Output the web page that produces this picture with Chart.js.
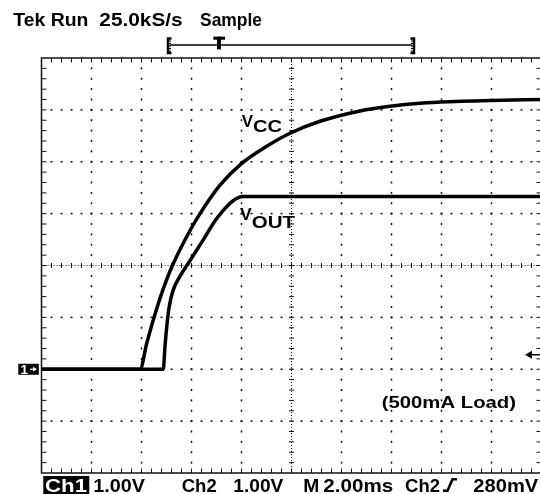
<!DOCTYPE html>
<html>
<head>
<meta charset="utf-8">
<title>Vcc / Vout power-up</title>
<script src="https://cdn.jsdelivr.net/npm/chart.js@4.4.1/dist/chart.umd.min.js"></script>
<style>
  html, body { margin: 0; padding: 0; background: #fff; overflow: hidden; }
  #wrap { width: 546px; height: 494px; }
</style>
</head>
<body>
<div id="wrap"><canvas id="scope" width="546" height="494"></canvas></div>
<script>
// time in ms (M 2.00ms/div, 10 div), volts (1.00V/div, ground 2 div above bottom)
const timeRange = [0, 20];
const voltRange = [-2, 6];

const vccTime  = [0, 3.94, 4.21, 4.47, 4.87, 5.21, 5.81, 6.34, 7.14, 8.01, 9.01, 9.94, 11.14, 12.74, 13.94, 15.14, 15.94, 17.94, 20];
const vccVolts = [0, 0, 0.50, 0.95, 1.55, 1.97, 2.56, 3.00, 3.55, 3.97, 4.30, 4.55, 4.78, 4.98, 5.07, 5.13, 5.15, 5.18, 5.20];

const voutTime  = [0, 4.87, 4.94, 5.01, 5.11, 5.27, 5.55, 5.95, 6.45, 7.0, 7.5, 7.8, 8.05, 20];
const voutVolts = [0, 0, 0.44, 0.82, 1.21, 1.53, 1.80, 2.10, 2.48, 2.90, 3.18, 3.29, 3.33, 3.33];

const triggerLevel = 0.28; // Ch2 280mV

const FONT = '"Liberation Sans", Arial, Helvetica, sans-serif';

function toPoints(xs, ys) {
  return xs.map((t, i) => ({x: t, y: ys[i]}));
}

// draw bold text squeezed/stretched to the width it has on the scope screen
function fitText(ctx, str, x, base, width, size) {
  ctx.font = 'bold ' + size + 'px ' + FONT;
  let w = ctx.measureText(str).width;
  ctx.save();
  ctx.translate(x, base);
  ctx.scale(width / w, 1);
  ctx.fillText(str, 0, 0);
  ctx.restore();
}

const graticule = {
  id: 'graticule',
  beforeDatasetsDraw(chart) {
    const {ctx, chartArea: a, scales: {x, y}} = chart;
    ctx.save();
    ctx.fillStyle = '#111';

    // dotted division lines, one dot every 1/5 division
    for (let t = 2; t < 20; t += 2) {
      if (t === 10) continue;
      let px = x.getPixelForValue(t);
      for (let i = 1; i < 40; i++) {
        ctx.fillRect(px - 0.75, y.getPixelForValue(-2 + i * 0.2) - 1, 1.5, 2);
      }
    }
    for (let v = -1; v < 6; v++) {
      if (v === 2) continue;
      let py = y.getPixelForValue(v);
      for (let i = 1; i < 50; i++) {
        ctx.fillRect(x.getPixelForValue(i * 0.4) - 1, py - 0.75, 2, 1.5);
      }
    }

    // centre cross with small ticks
    let cx = x.getPixelForValue(10), cy = y.getPixelForValue(2);
    ctx.strokeStyle = '#111';
    ctx.lineWidth = 1;
    ctx.setLineDash([1, 2]);
    ctx.beginPath();
    ctx.moveTo(cx, a.top); ctx.lineTo(cx, a.bottom);
    ctx.moveTo(a.left, cy); ctx.lineTo(a.right, cy);
    ctx.stroke();
    ctx.setLineDash([]);
    ctx.beginPath();
    for (let i = 1; i < 40; i++) {
      let py = y.getPixelForValue(-2 + i * 0.2);
      ctx.moveTo(cx - 2.5, py); ctx.lineTo(cx + 2.5, py);
    }
    for (let i = 1; i < 50; i++) {
      let px = x.getPixelForValue(i * 0.4);
      ctx.moveTo(px, cy - 2.5); ctx.lineTo(px, cy + 2.5);
    }
    ctx.stroke();

    // frame and its inward ticks
    ctx.lineWidth = 1.5;
    ctx.strokeRect(a.left, a.top, a.right - a.left, a.bottom - a.top);
    ctx.lineWidth = 1;
    ctx.beginPath();
    for (let i = 1; i < 50; i++) {
      let px = x.getPixelForValue(i * 0.4);
      ctx.moveTo(px, a.top); ctx.lineTo(px, a.top + 4.5);
      ctx.moveTo(px, a.bottom); ctx.lineTo(px, a.bottom - 4.5);
    }
    for (let i = 1; i < 40; i++) {
      let py = y.getPixelForValue(-2 + i * 0.2);
      ctx.moveTo(a.left, py); ctx.lineTo(a.left + 5, py);
      ctx.moveTo(a.right, py); ctx.lineTo(a.right - 5, py);
    }
    ctx.stroke();
    ctx.restore();
  },

  afterDraw(chart) {
    const {ctx, scales: {y}} = chart;
    ctx.save();
    ctx.fillStyle = '#000';
    ctx.strokeStyle = '#000';
    ctx.textBaseline = 'alphabetic';

    // header
    fitText(ctx, 'Tek Run', 13.3, 26, 75, 18.5);
    fitText(ctx, '25.0kS/s', 99.3, 26, 83.4, 18.5);
    fitText(ctx, 'Sample', 200, 26, 62, 18.5);

    // record bar  [----T-----------]
    ctx.lineWidth = 1.5;
    ctx.beginPath();
    ctx.moveTo(170, 45); ctx.lineTo(412, 45);
    ctx.stroke();
    ctx.lineWidth = 2.5;
    ctx.beginPath();
    ctx.moveTo(171.5, 38.5); ctx.lineTo(168, 38.5); ctx.lineTo(168, 53); ctx.lineTo(171.5, 53);
    ctx.moveTo(410.5, 38.5); ctx.lineTo(414, 38.5); ctx.lineTo(414, 53); ctx.lineTo(410.5, 53);
    ctx.stroke();
    ctx.lineWidth = 1;
    ctx.beginPath();
    for (let yy = 41; yy < 52; yy += 2.5) {
      ctx.moveTo(168, yy); ctx.lineTo(171, yy);
      ctx.moveTo(414, yy); ctx.lineTo(411, yy);
    }
    ctx.stroke();
    ctx.fillRect(213.3, 36.7, 11.7, 3);
    ctx.fillRect(217, 36.7, 4, 12.6);

    // trace labels
    fitText(ctx, 'V', 241.7, 126.7, 11.3, 16);
    fitText(ctx, 'CC', 253, 132, 29, 17);
    fitText(ctx, 'V', 240, 220, 11.7, 16);
    fitText(ctx, 'OUT', 251.7, 228, 43.3, 17);
    fitText(ctx, '(500mA Load)', 381.7, 407.5, 134.3, 17);

    // channel 1 ground marker
    let gy = y.getPixelForValue(0);
    ctx.fillRect(18.3, gy - 5.5, 20.5, 11);
    ctx.fillStyle = '#fff';
    ctx.strokeStyle = '#fff';
    fitText(ctx, '1', 20.5, gy + 4.5, 7.5, 12);
    ctx.lineWidth = 1.2;
    ctx.beginPath();
    ctx.moveTo(30, gy); ctx.lineTo(34, gy);
    ctx.stroke();
    ctx.beginPath();
    ctx.moveTo(33, gy - 2.5); ctx.lineTo(37, gy); ctx.lineTo(33, gy + 2.5);
    ctx.closePath();
    ctx.fill();

    // trigger level marker on the right
    ctx.fillStyle = '#000';
    ctx.strokeStyle = '#000';
    let ty = y.getPixelForValue(triggerLevel);
    ctx.beginPath();
    ctx.moveTo(525, ty); ctx.lineTo(532, ty - 4); ctx.lineTo(532, ty + 4);
    ctx.closePath();
    ctx.fill();
    ctx.lineWidth = 1.5;
    ctx.beginPath();
    ctx.moveTo(531, ty); ctx.lineTo(540, ty);
    ctx.stroke();

    // bottom readout
    ctx.fillRect(43.3, 476, 46, 18);
    ctx.fillStyle = '#fff';
    fitText(ctx, 'Ch1', 45, 492, 42, 19);
    ctx.fillStyle = '#000';
    fitText(ctx, '1.00V', 93.3, 492, 51.7, 19);
    fitText(ctx, 'Ch2', 181.7, 492, 35, 19);
    fitText(ctx, '1.00V', 233.3, 492, 50, 19);
    fitText(ctx, 'M', 303.3, 492, 16, 19);
    fitText(ctx, '2.00ms', 323.3, 492, 70, 19);
    fitText(ctx, 'Ch2', 405, 492, 35, 19);
    ctx.lineWidth = 2.5;
    ctx.beginPath();
    ctx.moveTo(443, 490.8); ctx.lineTo(447.5, 490.8); ctx.lineTo(452.5, 479.3); ctx.lineTo(457, 479.3);
    ctx.stroke();
    fitText(ctx, '280mV', 473.3, 492, 65, 19);

    ctx.restore();
  }
};

const ctx = document.getElementById('scope');
new Chart(ctx, {
  type: 'line',
  data: {
    datasets: [
      {
        label: 'VCC',
        data: toPoints(vccTime, vccVolts),
        borderColor: '#000',
        borderWidth: 3.5,
        pointRadius: 0,
        cubicInterpolationMode: 'monotone',
        fill: false
      },
      {
        label: 'VOUT',
        data: toPoints(voutTime, voutVolts),
        borderColor: '#000',
        borderWidth: 3.5,
        pointRadius: 0,
        cubicInterpolationMode: 'monotone',
        fill: false
      }
    ]
  },
  options: {
    responsive: false,
    animation: false,
    devicePixelRatio: 1,
    layout: { padding: { left: 41.5, right: 4.5, top: 58, bottom: 21 } },
    plugins: {
      legend: { display: false },
      tooltip: { enabled: false }
    },
    scales: {
      x: { type: 'linear', min: timeRange[0], max: timeRange[1], display: false },
      y: { type: 'linear', min: voltRange[0], max: voltRange[1], display: false }
    }
  },
  plugins: [graticule]
});
</script>
</body>
</html>
